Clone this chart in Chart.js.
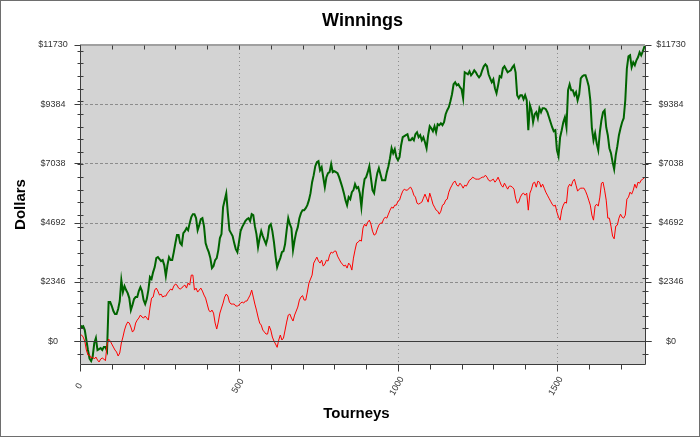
<!DOCTYPE html>
<html>
<head>
<meta charset="utf-8">
<script src="https://cdn.jsdelivr.net/npm/chart.js@4.4.1/dist/chart.umd.min.js"></script>
<style>
  html, body { margin: 0; padding: 0; background: #fff; }
  canvas { display: block; }
</style>
</head>
<body>
<canvas id="chart" width="700" height="437"></canvas>
<script>
// tourney number for each sampled point
const tourneys = [
  0, 5, 10, 15, 20, 25, 30, 35, 40, 45, 50, 55, 60, 65, 70, 75, 80, 85, 90, 95,
  100, 105, 110, 115, 120, 125, 130, 135, 140, 145, 150, 155, 160, 165, 170, 175, 180, 185, 190, 195,
  200, 205, 210, 215, 220, 225, 230, 235, 240, 245, 250, 255, 260, 265, 270, 275, 280, 285, 290, 295,
  300, 305, 310, 315, 320, 325, 330, 335, 340, 345, 350, 355, 360, 365, 370, 375, 380, 385, 390, 395,
  400, 405, 410, 415, 420, 425, 430, 435, 440, 445, 450, 455, 460, 465, 470, 475, 480, 485, 490, 495,
  500, 505, 510, 515, 520, 525, 530, 535, 540, 545, 550, 555, 560, 565, 570, 575, 580, 585, 590, 595,
  600, 605, 610, 615, 620, 625, 630, 635, 640, 645, 650, 655, 660, 665, 670, 675, 680, 685, 690, 695,
  700, 705, 710, 715, 720, 725, 730, 735, 740, 745, 750, 755, 760, 765, 770, 775, 780, 785, 790, 795,
  800, 805, 810, 815, 820, 825, 830, 835, 840, 845, 850, 855, 860, 865, 870, 875, 880, 885, 890, 895,
  900, 905, 910, 915, 920, 925, 930, 935, 940, 945, 950, 955, 960, 965, 970, 975, 980, 985, 990, 995,
  1000, 1005, 1010, 1015, 1020, 1025, 1030, 1035, 1040, 1045, 1050, 1055, 1060, 1065, 1070, 1075, 1080, 1085, 1090, 1095,
  1100, 1105, 1110, 1115, 1120, 1125, 1130, 1135, 1140, 1145, 1150, 1155, 1160, 1165, 1170, 1175, 1180, 1185, 1190, 1195,
  1200, 1205, 1210, 1215, 1220, 1225, 1230, 1235, 1240, 1245, 1250, 1255, 1260, 1265, 1270, 1275, 1280, 1285, 1290, 1295,
  1300, 1305, 1310, 1315, 1320, 1325, 1330, 1335, 1340, 1345, 1350, 1355, 1360, 1365, 1370, 1375, 1380, 1385, 1390, 1395,
  1400, 1405, 1410, 1415, 1420, 1425, 1430, 1435, 1440, 1445, 1450, 1455, 1460, 1465, 1470, 1475, 1480, 1485, 1490, 1495,
  1500, 1505, 1510, 1515, 1520, 1525, 1530, 1535, 1540, 1545, 1550, 1555, 1560, 1565, 1570, 1575, 1580, 1585, 1590, 1595,
  1600, 1605, 1610, 1615, 1620, 1625, 1630, 1635, 1640, 1645, 1650, 1655, 1660, 1665, 1670, 1675, 1680, 1685, 1690, 1695,
  1700, 1705, 1710, 1715, 1720, 1725, 1730, 1735, 1740, 1745, 1750, 1755, 1760, 1765, 1770, 1777,
];

// green line (winnings)
const winnings = [
  630, 560, 594, 435, 40, -356, -700, -792, -600, -79, 119, -356, -317, -277, -356, -238, -238, -396, 1544, 1544,
  1386, 1188, 1069, 1069, 1267, 1584, 2415, 1940, 2177, 2019, 1900, 1702, 1227, 1425, 1663, 1742, 1742, 1980, 2138, 1980,
  1623, 1465, 1663, 2019, 2534, 2455, 2732, 2930, 3286, 3326, 3246, 3167, 3207, 3009, 2573, 3009, 3326, 3207, 3207, 3523,
  3880, 4197, 4197, 3880, 3801, 4276, 4355, 4474, 4394, 4672, 4909, 5028, 5028, 4870, 4394, 4593, 4830, 4870, 4553, 3880,
  3682, 3523, 3286, 2890, 2969, 3207, 3286, 3603, 4078, 4236, 5305, 5582, 5850, 5068, 4394, 4276, 4157, 3880, 3642, 3523,
  3920, 4355, 4513, 4632, 4751, 4830, 4870, 4751, 5028, 4988, 4553, 4236, 3720, 4078, 4355, 4157, 3999, 3840, 4078, 4553,
  4632, 4355, 3920, 3365, 2930, 3128, 3286, 3523, 3563, 3840, 4394, 4870, 4632, 4474, 3603, 3999, 4315, 4513, 4870, 5068,
  5186, 5186, 5265, 5384, 5582, 5860, 6295, 6572, 6928, 7087, 7126, 6770, 6889, 6493, 6097, 6493, 6651, 6691, 7007, 6691,
  6730, 6691, 6651, 6493, 6295, 6097, 5860, 5582, 5384, 5701, 5622, 5899, 5978, 6216, 6057, 6097, 5860, 5305, 5978, 6414,
  6493, 6691, 6928, 6453, 5978, 5860, 6295, 6651, 6849, 6612, 6374, 6374, 6374, 6691, 6928, 7245, 7641, 7443, 7601, 7285,
  7166, 7285, 7760, 8076, 8116, 8156, 8195, 7957, 7957, 8037, 7957, 8195, 8274, 8076, 8156, 7957, 8076, 7878, 7641, 8156,
  8512, 8433, 8314, 8512, 8274, 8591, 8551, 8630, 8551, 8670, 8987, 9145, 9264, 9502, 9779, 10174, 10254, 10135, 10174, 10056,
  9977, 9621, 10649, 10610, 10570, 10689, 10530, 10610, 10728, 10649, 10530, 10451, 10530, 10728, 10887, 10966, 10887, 10570, 10411, 10254,
  10372, 10016, 9818, 10135, 10491, 10451, 10807, 10887, 10768, 10649, 10689, 10728, 10847, 10926, 10649, 9739, 9621, 9739, 9739, 9581,
  9739, 9541, 8353, 9343, 9145, 8670, 8987, 9066, 8828, 9224, 9066, 9224, 9224, 9185, 9066, 8868, 8670, 8472, 8314, 8353,
  7562, 7324, 8076, 8353, 8670, 8868, 8472, 9937, 10174, 9937, 9937, 9739, 9858, 9541, 9779, 10411, 10491, 10530, 10530, 10333,
  10095, 9541, 8433, 7957, 8235, 7839, 7562, 8274, 8749, 9066, 9145, 8472, 8156, 7641, 7443, 7087, 6809, 7364, 7720, 8156,
  8433, 8670, 8828, 9541, 10807, 11283, 11323, 10847, 11045, 10926, 11125, 11243, 11442, 11323, 11481, 11730,
];

// red line
const expected = [
  280, 238, 158, 0, -356, -554, -554, -673, -633, -713, -633, -752, -830, -713, -673, -713, -780, -158, 79, 0,
  -119, -238, -356, -435, -594, -475, -79, 158, 435, 633, 752, 713, 554, 356, 435, 713, 831, 911, 1029, 950,
  911, 990, 911, 831, 1306, 1702, 1742, 2019, 2098, 1980, 1821, 1861, 1742, 1782, 1782, 1900, 1980, 2059, 2019, 2177,
  2257, 2217, 2098, 2059, 2098, 2177, 2217, 2098, 2296, 2217, 2613, 2613, 2019, 2098, 1940, 2019, 2098, 1980, 1821, 1702,
  1465, 1227, 1148, 1227, 1108, 713, 475, 752, 1108, 1306, 1504, 1742, 1861, 1782, 1544, 1465, 1465, 1465, 1386, 1386,
  1425, 1504, 1544, 1504, 1584, 1584, 1702, 1821, 2019, 1742, 1465, 1227, 950, 713, 633, 435, 356, 277, 277, 594,
  435, 158, 0, -119, -250, 40, 238, 40, 119, 435, 752, 1029, 1069, 911, 792, 1029, 1188, 1346, 1623, 1742,
  1800, 1623, 1623, 1940, 2296, 2455, 2613, 3088, 3207, 3326, 3167, 3088, 3207, 2969, 3048, 3207, 3167, 3405, 3523, 3484,
  3563, 3563, 3365, 3246, 3128, 3048, 2969, 3009, 2890, 3088, 3009, 2811, 3286, 3603, 3880, 3920, 3999, 3959, 4474, 4632,
  4553, 4711, 4790, 4632, 4355, 4197, 4236, 4434, 4593, 4672, 4672, 4830, 4909, 4870, 5028, 5186, 5305, 5265, 5384, 5384,
  5543, 5582, 5780, 5939, 6018, 5978, 5978, 6057, 6097, 5978, 5780, 5701, 5463, 5424, 5463, 5503, 5661, 5820, 5661, 5503,
  5860, 5661, 5424, 5305, 5186, 5147, 5028, 5147, 5384, 5424, 5582, 5622, 5899, 6057, 6176, 6295, 6334, 6176, 6137, 6255,
  6176, 6057, 6176, 6137, 6255, 6374, 6414, 6493, 6453, 6414, 6414, 6414, 6453, 6493, 6493, 6572, 6493, 6374, 6334, 6374,
  6414, 6295, 6374, 6493, 6334, 6176, 6097, 6255, 6137, 6018, 6137, 6137, 6097, 6018, 5661, 5463, 5503, 5701, 5820, 5860,
  5780, 5860, 5186, 5860, 6018, 6255, 6295, 6097, 6334, 6295, 6097, 6216, 6057, 5899, 5780, 5661, 5543, 5424, 5345, 5384,
  5107, 4909, 4790, 5186, 5384, 5503, 5463, 6097, 6216, 6137, 6334, 6414, 6176, 5939, 6018, 6057, 6057, 6057, 5939, 5780,
  5582, 5384, 4988, 4790, 5345, 5424, 5345, 5701, 6255, 6295, 5978, 5582, 4870, 4870, 4553, 4157, 4050, 4553, 4593, 4870,
  5028, 4909, 4870, 4988, 5622, 5701, 5899, 5820, 5978, 6216, 6057, 6295, 6255, 6374, 6414, 6493,
];

const yTicks = [0, 2346, 4692, 7038, 9384, 11730];
const yMinorTicks = [
  -500, 500, 1000, 1500, 2000, 2500, 3000, 3500, 4000, 4500, 5000, 5500,
  6000, 6500, 7000, 7500, 8000, 8500, 9000, 9500, 10000, 10500, 11000, 11500,
];
const xTicks = [0, 500, 1000, 1500];
const xMinorTicks = [100, 200, 300, 400, 600, 700, 800, 900, 1100, 1200, 1300, 1400, 1600, 1700];

const Y_MIN = -910;
const Y_MAX = 11730;
const X_MAX = 1777;

const FONT = "'Liberation Sans', Arial, Helvetica, sans-serif";
const PLOT_BG = "#d3d3d3";
const GRID_COLOR = "#8c8c8c";
const AXIS_COLOR = "#3c3c3c";
const LABEL_COLOR = "#333333";
const GREEN = "#006400";
const RED = "#ff0000";

function strokeLine(ctx, x1, y1, x2, y2) {
  ctx.beginPath();
  ctx.moveTo(x1, y1);
  ctx.lineTo(x2, y2);
  ctx.stroke();
}

function crisp(v) {
  return Math.round(v) + 0.5;
}

const framePlugin = {
  id: "frame",
  beforeDraw(chart) {
    const ctx = chart.ctx;
    ctx.save();
    ctx.fillStyle = "#ffffff";
    ctx.fillRect(0, 0, chart.width, chart.height);
    ctx.restore();
  },
  beforeDatasetsDraw(chart) {
    const { ctx, chartArea: a, scales: { x, y } } = chart;
    ctx.save();
    ctx.fillStyle = PLOT_BG;
    ctx.fillRect(a.left, a.top, a.right - a.left, a.bottom - a.top);

    ctx.lineWidth = 1;
    ctx.strokeStyle = GRID_COLOR;
    ctx.setLineDash([3, 2]);
    yTicks.forEach((v) => {
      if (v === 0 || v === Y_MAX) return;
      const py = crisp(y.getPixelForValue(v));
      strokeLine(ctx, a.left, py, a.right, py);
    });
    ctx.setLineDash([1, 3]);
    xTicks.forEach((v) => {
      if (v === 0) return;
      const px = crisp(x.getPixelForValue(v));
      strokeLine(ctx, px, a.top, px, a.bottom);
    });
    ctx.restore();
  },
  afterDatasetsDraw(chart) {
    const { ctx, chartArea: a, scales: { x, y } } = chart;
    const left = crisp(a.left);
    const right = crisp(a.right);
    const bottom = crisp(a.bottom);
    const top = crisp(a.top);

    ctx.save();
    ctx.lineWidth = 1;

    // top frame line
    ctx.strokeStyle = "#a0a0a0";
    ctx.lineWidth = 2;
    strokeLine(ctx, a.left, a.top, a.right, a.top);
    ctx.lineWidth = 1;

    // zero line
    ctx.strokeStyle = AXIS_COLOR;
    const zero = crisp(y.getPixelForValue(0));
    strokeLine(ctx, left - 6, zero, right + 6, zero);

    // axes
    strokeLine(ctx, left, top, left, bottom);
    strokeLine(ctx, right, top, right, bottom);
    strokeLine(ctx, left, bottom, right, bottom);

    // y ticks
    yTicks.forEach((v) => {
      const py = crisp(y.getPixelForValue(v));
      strokeLine(ctx, left - 6, py, left, py);
      strokeLine(ctx, right, py, right + 6, py);
    });
    yMinorTicks.forEach((v) => {
      const py = crisp(y.getPixelForValue(v));
      strokeLine(ctx, left - 3, py, left + 3, py);
      strokeLine(ctx, right - 3, py, right + 3, py);
    });

    // x ticks
    xTicks.forEach((v) => {
      const px = crisp(x.getPixelForValue(v));
      strokeLine(ctx, px, bottom, px, bottom + 7);
      strokeLine(ctx, px, top, px, top + 4);
    });
    xMinorTicks.forEach((v) => {
      const px = crisp(x.getPixelForValue(v));
      strokeLine(ctx, px, bottom, px, bottom + 5);
      strokeLine(ctx, px, top, px, top + 4);
    });

    // y labels, both sides
    ctx.fillStyle = LABEL_COLOR;
    ctx.font = "9px " + FONT;
    ctx.textAlign = "center";
    ctx.textBaseline = "middle";
    yTicks.forEach((v) => {
      const py = y.getPixelForValue(v);
      ctx.fillText("$" + v, a.left - 27, py);
      ctx.fillText("$" + v, a.right + 26, py);
    });

    // x labels, rotated
    xTicks.forEach((v) => {
      const px = x.getPixelForValue(v);
      ctx.save();
      ctx.translate(px - 1, 386);
      ctx.rotate(-Math.PI / 3);
      ctx.fillText(String(v), 0, 0);
      ctx.restore();
    });

    // axis titles
    ctx.fillStyle = "#000000";
    ctx.font = "bold 15px " + FONT;
    ctx.fillText("Tourneys", (a.left + a.right) / 2 - 6, 414);
    ctx.save();
    ctx.translate(21, (a.top + a.bottom) / 2);
    ctx.rotate(-Math.PI / 2);
    ctx.fillText("Dollars", 0, 0);
    ctx.restore();

    // outer border
    ctx.strokeStyle = "#6e6e6e";
    ctx.strokeRect(0.5, 0.5, chart.width - 1, chart.height - 1);
    ctx.restore();
  },
};

new Chart(document.getElementById("chart").getContext("2d"), {
  type: "line",
  data: {
    datasets: [
      {
        label: "Expected",
        data: tourneys.map((t, i) => ({ x: t, y: expected[i] })),
        borderColor: RED,
        borderWidth: 1,
        pointRadius: 0,
        tension: 0,
      },
      {
        label: "Winnings",
        data: tourneys.map((t, i) => ({ x: t, y: winnings[i] })),
        borderColor: GREEN,
        borderWidth: 2,
        pointRadius: 0,
        tension: 0,
      },
    ],
  },
  options: {
    responsive: false,
    animation: false,
    layout: { padding: { top: 0, right: 55, bottom: 73, left: 80 } },
    plugins: {
      legend: { display: false },
      tooltip: { enabled: false },
      title: {
        display: true,
        text: "Winnings",
        color: "#000000",
        font: { family: FONT, size: 18, weight: "bold", lineHeight: 1.2 },
        padding: { top: 10, bottom: 13.4 },
      },
    },
    scales: {
      x: { type: "linear", display: false, min: 0, max: X_MAX },
      y: { type: "linear", display: false, min: Y_MIN, max: Y_MAX },
    },
  },
  plugins: [framePlugin],
});
</script>
</body>
</html>
